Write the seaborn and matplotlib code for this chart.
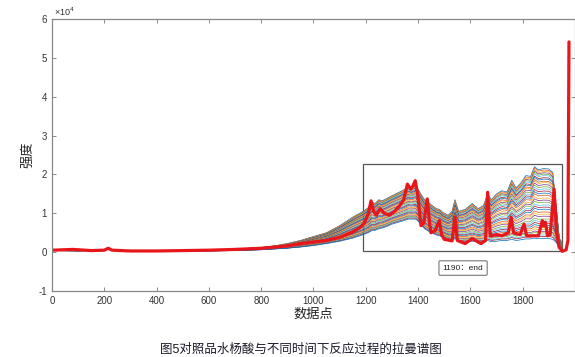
import pandas as pd
import seaborn as sns
import matplotlib.pyplot as plt
from matplotlib.patches import Rectangle

# Raman spectra, intensity in units of 1e4
wave_x = [0, 100, 200, 215, 230, 300, 400, 500, 600, 700, 800, 850, 900, 950,
          1000, 1050, 1100, 1150, 1190, 1210, 1222, 1235, 1250, 1262, 1280,
          1300, 1330, 1350, 1362, 1375, 1390, 1400, 1412, 1425, 1437, 1450,
          1470, 1482, 1495, 1515, 1530, 1541, 1555, 1580, 1607, 1630, 1650,
          1666, 1680, 1700, 1720, 1740, 1758, 1775, 1795, 1812, 1830, 1845,
          1860, 1880, 1900, 1915, 1928, 1940, 1950]

# highest of the time-series spectra
top_y = [0.06, 0.05, 0.07, 0.1, 0.06, 0.04, 0.04, 0.05, 0.06, 0.08, 0.12, 0.16,
         0.22, 0.3, 0.4, 0.5, 0.68, 0.9, 1.05, 1.15, 1.3, 1.25, 1.35, 1.32,
         1.38, 1.45, 1.55, 1.62, 1.68, 1.65, 1.7, 1.62, 1.48, 1.35, 1.3, 1.22,
         1.12, 1.1, 1.02, 0.95, 1.05, 1.35, 1.05, 1.1, 1.25, 1.12, 1.2, 1.5,
         1.35, 1.5, 1.58, 1.55, 1.85, 1.65, 1.8, 1.97, 1.95, 2.2, 2.12, 2.15,
         2.14, 2.05, 1.2, 0.35, 0.25]

# lowest of the time-series spectra
bottom_y = [0.04, 0.03, 0.05, 0.07, 0.04, 0.02, 0.02, 0.02, 0.03, 0.04, 0.06,
            0.08, 0.1, 0.13, 0.17, 0.22, 0.28, 0.36, 0.45, 0.5, 0.55, 0.56,
            0.6, 0.62, 0.66, 0.72, 0.78, 0.82, 0.85, 0.85, 0.85, 0.8, 0.7,
            0.6, 0.55, 0.5, 0.44, 0.42, 0.38, 0.33, 0.3, 0.35, 0.28, 0.26,
            0.28, 0.26, 0.27, 0.3, 0.27, 0.28, 0.3, 0.3, 0.33, 0.3, 0.32,
            0.34, 0.34, 0.36, 0.35, 0.35, 0.35, 0.33, 0.25, 0.12, 0.1]

# relative position of each spectrum between the lowest and highest one
levels = [1.0, 0.98, 0.96, 0.94, 0.92, 0.9, 0.87, 0.85, 0.82, 0.8, 0.77, 0.74,
          0.71, 0.68, 0.65, 0.62, 0.58, 0.55, 0.52, 0.48, 0.45, 0.42, 0.38,
          0.35, 0.32, 0.28, 0.25, 0.22, 0.19, 0.16, 0.13, 0.1, 0.08, 0.05,
          0.03, 0.0]

# reference (salicylic acid) spectrum, drawn in red
ref_x = [0, 80, 150, 200, 215, 230, 300, 400, 500, 600, 700, 800, 900, 950,
         1000, 1050, 1100, 1150, 1175, 1195, 1210, 1220, 1230, 1240, 1255,
         1270, 1290, 1310, 1330, 1345, 1359, 1372, 1380, 1389, 1398, 1411,
         1422, 1435, 1444, 1449, 1465, 1481, 1490, 1500, 1530, 1541, 1550,
         1580, 1607, 1640, 1658, 1666, 1676, 1700, 1720, 1745, 1756, 1765,
         1790, 1805, 1815, 1860, 1875, 1880, 1887, 1895, 1905, 1920, 1930,
         1939, 1951, 1966, 1973, 1977]
ref_y = [0.05, 0.07, 0.04, 0.05, 0.1, 0.05, 0.03, 0.03, 0.04, 0.05, 0.07, 0.1,
         0.16, 0.22, 0.26, 0.3, 0.38, 0.52, 0.62, 0.75, 1.0, 1.32, 1.05, 0.95,
         1.12, 1.0, 0.95, 1.05, 1.2, 1.35, 1.75, 1.62, 1.7, 1.84, 1.5, 0.68,
         0.75, 1.37, 0.75, 0.5, 0.55, 0.81, 0.45, 0.33, 0.29, 0.9, 0.3, 0.22,
         0.35, 0.22, 0.3, 1.54, 0.42, 0.45, 0.42, 0.5, 0.9, 0.5, 0.45, 0.72,
         0.42, 0.42, 0.81, 0.68, 0.77, 0.42, 0.45, 1.62, 0.5, 0.13, 0.02, 0.06,
         0.3, 5.41]

x_ticks = [0, 200, 400, 600, 800, 1000, 1200, 1400, 1600, 1800, 2000]
x_tick_labels = ["0", "200", "400", "600", "800", "1000", "1200", "1400",
                 "1600", "1800", ""]

matlab_colors = ["#0072bd", "#d95319", "#edb120", "#7e2f8e",
                 "#77ac30", "#4dbeee", "#a2142f"]

rows = []
for i, lv in enumerate(levels):
    for x, lo, hi in zip(wave_x, bottom_y, top_y):
        rows.append({"point": x, "intensity": lo + lv * (hi - lo), "series": i})
df = pd.DataFrame(rows)
df_ref = pd.DataFrame({"point": ref_x, "intensity": ref_y})

sns.set_style("ticks")
plt.rcParams["font.family"] = ["Liberation Sans", "Noto Sans CJK SC", "DejaVu Sans"]
plt.rcParams["axes.unicode_minus"] = False

fig = plt.figure(figsize=(5.75, 3.57), dpi=100)
ax = fig.add_axes([0.0904, 0.1849, 0.9096, 0.7619])

palette = [matlab_colors[i % len(matlab_colors)] for i in range(len(levels))]
sns.lineplot(data=df, x="point", y="intensity", hue="series", palette=palette,
             linewidth=0.5, legend=False, ax=ax)
sns.lineplot(data=df_ref, x="point", y="intensity", color="#e8161b",
             linewidth=2.3, ax=ax)

ax.add_patch(Rectangle((1190, 0.03), 760, 2.24, fill=False,
                       edgecolor="#555555", linewidth=0.9))
ax.text(1572, -0.41, "1190：end", fontsize=6, ha="center", va="center",
        color="#222222",
        bbox=dict(boxstyle="round,pad=0.45,rounding_size=0.15",
                  facecolor="white", edgecolor="#777777", linewidth=0.8))

ax.set_xlim(0, 2000)
ax.set_ylim(-1, 6)
ax.set_xticks(x_ticks)
ax.set_xticklabels(x_tick_labels)
ax.set_yticks(range(-1, 7))
ax.tick_params(direction="in", top=True, right=True, length=3, width=0.6,
               labelsize=7, colors="#777777", labelcolor="#333333")
for s in ax.spines.values():
    s.set_visible(True)
    s.set_color("#888888")
    s.set_linewidth(0.9)

ax.text(0.003, 1.005, "×10$^4$", transform=ax.transAxes, fontsize=6.5,
        color="#333333", ha="left", va="bottom")
ax.set_xlabel("数据点", fontsize=9.5, color="#222222", labelpad=2)
ax.set_ylabel("强度", fontsize=9.5, color="#222222", labelpad=3)

fig.text(0.523, 0.02, "图5对照品水杨酸与不同时间下反应过程的拉曼谱图",
         fontsize=9, ha="center", va="center", color="#1a1a2a")

fig.savefig("out.png", dpi=100)
